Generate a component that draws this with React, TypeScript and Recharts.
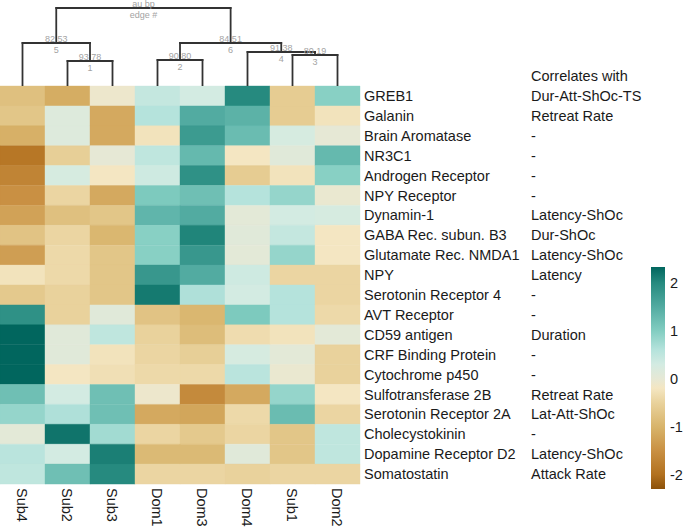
import React from 'react';
import {
  BarChart, Bar, Cell, XAxis, YAxis, ScatterChart, Scatter, ReferenceLine,
} from 'recharts';

// ---------- data ----------
const columns = ['Sub4', 'Sub2', 'Sub3', 'Dom1', 'Dom3', 'Dom4', 'Sub1', 'Dom2'];

const genes = [
  'GREB1', 'Galanin', 'Brain Aromatase', 'NR3C1', 'Androgen Receptor',
  'NPY Receptor', 'Dynamin-1', 'GABA Rec. subun. B3', 'Glutamate Rec. NMDA1', 'NPY',
  'Serotonin Receptor 4', 'AVT Receptor', 'CD59 antigen', 'CRF Binding Protein', 'Cytochrome p450',
  'Sulfotransferase 2B', 'Serotonin Receptor 2A', 'Cholecystokinin', 'Dopamine Receptor D2', 'Somatostatin',
];

const correlates = [
  'Dur-Att-ShOc-TS', 'Retreat Rate', '-', '-', '-',
  '-', 'Latency-ShOc', 'Dur-ShOc', 'Latency-ShOc', 'Latency',
  '-', '-', 'Duration', '-', '-',
  'Retreat Rate', 'Lat-Att-ShOc', '-', 'Latency-ShOc', 'Attack Rate',
];

// z-scores per column (one value per gene, in gene order)
const sub4 = [-0.8, -0.7, -1.05, -1.9, -1.7, -1.5, -1.25, -0.75, -1.3, -0.25, -0.65, 1.9, 2.35, 2.35, 2.35, 1.2, 0.85, 0.05, 0.55, 0.5];
const sub2 = [-1.1, 0.15, 0.15, -0.55, 0.25, -0.45, -0.8, -0.45, -0.4, -0.4, -0.5, -0.5, 0.1, 0.1, -0.2, 0.3, 0.65, 2.2, 0.3, 1.2];
const sub3 = [-0.1, -1.15, -1.15, 0.0, -0.2, -1.15, -0.7, -0.95, -0.7, -0.7, -0.7, 0.1, 0.5, -0.25, -0.3, 1.2, 1.2, 0.75, 2.1, 2.0];
const dom1 = [0.45, 0.6, -0.25, 0.5, 0.35, 1.05, 1.35, 0.95, 0.95, 1.8, 2.15, -0.75, -0.5, -0.45, -0.4, -0.1, -1.15, -0.45, -0.9, -0.45];
const dom3 = [0.3, 1.5, 1.75, 1.3, 1.9, 1.2, 1.5, 2.05, 1.8, 1.5, 0.65, -0.95, -0.85, -0.55, -0.4, -1.6, -1.2, -0.65, -0.9, -0.45];
const dom4 = [2.0, 1.4, 1.25, -0.2, -0.6, 0.6, 0.05, 0.1, 0.05, 0.35, 0.3, 1.05, -0.35, 0.25, 0.55, -1.15, -0.4, -0.45, 0.1, -0.5];
const sub1 = [-0.6, -0.6, 0.25, 0.1, -0.25, 0.85, 0.3, 0.45, 0.85, -0.45, 0.6, 0.6, -0.25, 0.05, -0.05, 0.85, 1.25, -0.7, -0.7, -0.45];
const dom2 = [0.95, -0.25, 0.0, 1.3, 0.95, -0.05, 0.25, -0.2, -0.2, -0.45, -0.45, -0.4, 0.05, -0.5, -0.5, -0.2, -0.45, 0.5, 0.5, -0.45];

const columnValues = [sub4, sub2, sub3, dom1, dom3, dom4, sub1, dom2];

// dendrogram (pvclust): children are column names or node ids
const dendroNodes = [
  { id: '1', left: 'Sub2', right: 'Sub3', height: 0.25, au: '93', bp: '78' },
  { id: '5', left: 'Sub4', right: '1', height: 0.43, au: '82', bp: '53' },
  { id: '2', left: 'Dom1', right: 'Dom3', height: 0.26, au: '90', bp: '80' },
  { id: '3', left: 'Sub1', right: 'Dom2', height: 0.31, au: '80', bp: '19' },
  { id: '4', left: 'Dom4', right: '3', height: 0.34, au: '91', bp: '38' },
  { id: '6', left: '2', right: '4', height: 0.43, au: '84', bp: '51' },
  { id: 'edge #', left: '5', right: '6', height: 0.78, au: 'au', bp: 'bp' },
];

const colorbarTicks = [-2, -1, 0, 1, 2];
const colorbarDomain = [-2.3, 2.33];

// ---------- styling ----------
const paletteStops: [number, string][] = [
  [-2.3, '#8c510a'],
  [-2.0, '#b2711f'],
  [-1.5, '#c99043'],
  [-1.0, '#d8b46b'],
  [-0.5, '#e9d29c'],
  [-0.2, '#f4e6c2'],
  [0.0, '#e6e8d5'],
  [0.3, '#d3ebe2'],
  [0.6, '#b5e3dc'],
  [1.0, '#82cdc1'],
  [1.5, '#52aba1'],
  [2.0, '#268a7f'],
  [2.33, '#01665e'],
];

const hexToRgb = (h: string) => [1, 3, 5].map((i) => parseInt(h.slice(i, i + 2), 16));
const colorFor = (v: number) => {
  if (v <= paletteStops[0][0]) return paletteStops[0][1];
  for (let i = 1; i < paletteStops.length; i++) {
    const [v1, c1] = paletteStops[i];
    if (v <= v1) {
      const [v0, c0] = paletteStops[i - 1];
      const t = (v - v0) / (v1 - v0);
      const a = hexToRgb(c0);
      const b = hexToRgb(c1);
      const m = a.map((x, k) => Math.round(x + (b[k] - x) * t));
      return `rgb(${m[0]},${m[1]},${m[2]})`;
    }
  }
  return paletteStops[paletteStops.length - 1][1];
};

const FONT = '"Liberation Sans", Arial, Helvetica, sans-serif';
const TEXT = '#1a1a1a';
const FS = 14.5;

// ---------- derived tables ----------
const heatData = genes.map((g) => {
  const row: any = { name: g };
  columns.forEach((c) => { row[c] = 1; });
  return row;
});

const positions: Record<string, { x: number; h: number }> = {};
columns.forEach((c, i) => { positions[c] = { x: i + 0.5, h: 0 }; });
const segments: { x1: number; y1: number; x2: number; y2: number }[] = [];
const nodeLabels: any[] = [];
dendroNodes.forEach((n) => {
  const l = positions[n.left];
  const r = positions[n.right];
  const x = (l.x + r.x) / 2;
  positions[n.id] = { x, h: n.height };
  segments.push({ x1: l.x, y1: n.height, x2: r.x, y2: n.height });
  segments.push({ x1: l.x, y1: n.height, x2: l.x, y2: l.h });
  segments.push({ x1: r.x, y1: n.height, x2: r.x, y2: r.h });
  nodeLabels.push({ x, h: n.height, top: `${n.au} ${n.bp}`, bottom: n.id });
});

const cbarData = [{ name: 'scale', range: colorbarDomain }];
const cbarSpan = colorbarDomain[1] - colorbarDomain[0];

// ---------- components ----------
const RowTick = (props: any) => {
  const { x, y, payload } = props;
  const idx = genes.indexOf(payload.value);
  return (
    <g>
      <text x={x} y={y} dy="0.35em" fontSize={FS} fill={TEXT} textAnchor="start">{payload.value}</text>
      <text x={x + 167} y={y} dy="0.35em" fontSize={FS} fill={TEXT} textAnchor="start">{correlates[idx]}</text>
    </g>
  );
};

const ColTick = (props: any) => {
  const { x, y, payload } = props;
  const label = columns[Math.floor(payload.value)];
  return (
    <text transform={`translate(${x},${y}) rotate(90)`} x={0} y={0} dy="0.35em"
      textAnchor="start" fontSize={FS} fill={TEXT}>{label}</text>
  );
};

const CbarTick = (props: any) => {
  const { x, y, payload } = props;
  return (
    <text x={x} y={y} dy="0.35em" textAnchor="start" fontSize={FS} fill={TEXT}>{payload.value}</text>
  );
};

const NodeLabel = (props: any) => {
  const { cx, cy, payload } = props;
  return (
    <g>
      <text x={cx} y={cy - 1.5} textAnchor="middle" fontSize={9} fill="#a3a3a3">{payload.top}</text>
      <text x={cx} y={cy + 9.5} textAnchor="middle" fontSize={9} fill="#a3a3a3">{payload.bottom}</text>
    </g>
  );
};

export default function App() {
  return (
    <div style={{ position: 'absolute', left: 0, top: 0, width: 685, height: 528, fontFamily: FONT, background: '#fff' }}>
      {/* heatmap */}
      <div style={{ position: 'absolute', left: 0, top: 0 }}>
        <BarChart width={685} height={528} data={heatData} layout="vertical"
          margin={{ top: 86, right: 25, bottom: 4, left: 0 }} barCategoryGap={0} barGap={0}>
          <XAxis type="number" domain={[0, columns.length]} ticks={columns.map((_, i) => i + 0.5)}
            interval={0} axisLine={false} tickLine={false} tickSize={0} tickMargin={4}
            height={40} tick={<ColTick />} />
          <YAxis type="category" dataKey="name" orientation="right" width={300} interval={0}
            axisLine={false} tickLine={false} tickSize={0} tickMargin={4} tick={<RowTick />} />
          {columns.map((c, ci) => (
            <Bar key={c} dataKey={c} stackId="s" isAnimationActive={false}>
              {genes.map((g, ri) => (
                <Cell key={g} fill={colorFor(columnValues[ci][ri])} stroke={colorFor(columnValues[ci][ri])} strokeWidth={0.4} />
              ))}
            </Bar>
          ))}
        </BarChart>
      </div>

      {/* dendrogram */}
      <div style={{ position: 'absolute', left: 0, top: 0 }}>
        <ScatterChart width={360} height={86} margin={{ top: 8, right: 0, bottom: 0, left: 0 }}>
          <XAxis type="number" dataKey="x" domain={[0, columns.length]} hide />
          <YAxis type="number" dataKey="h" domain={[0, 'dataMax']} hide />
          {segments.map((s, i) => (
            <ReferenceLine key={i} segment={[{ x: s.x1, y: s.y1 }, { x: s.x2, y: s.y2 }]}
              stroke="#333333" strokeWidth={1.8} ifOverflow="visible" strokeLinecap="square" />
          ))}
          <Scatter data={nodeLabels} isAnimationActive={false} shape={(p: any) => <NodeLabel {...p} />} />
        </ScatterChart>
      </div>

      {/* colorbar */}
      <div style={{ position: 'absolute', left: 651, top: 260 }}>
        <BarChart width={34} height={240} data={cbarData} margin={{ top: 7, right: 0, bottom: 11, left: 0 }}
          barCategoryGap={0}>
          <defs>
            <linearGradient id="cbarGradient" x1="0" y1="1" x2="0" y2="0">
              {paletteStops.map(([v, c], i) => (
                <stop key={i} offset={`${((v - colorbarDomain[0]) / cbarSpan) * 100}%`} stopColor={c} />
              ))}
            </linearGradient>
          </defs>
          <XAxis type="category" dataKey="name" hide />
          <YAxis type="number" orientation="right" domain={colorbarDomain} ticks={colorbarTicks}
            width={20} axisLine={false} tickLine={false} tickSize={0} tickMargin={5}
            tick={<CbarTick />} interval={0} allowDataOverflow />
          <Bar dataKey="range" fill="url(#cbarGradient)" isAnimationActive={false} />
        </BarChart>
      </div>

      {/* header */}
      <svg width={685} height={100} style={{ position: 'absolute', left: 0, top: 0, pointerEvents: 'none' }}>
        <text x={531} y={76} dy="0.35em" fontSize={FS} fill={TEXT}>Correlates with</text>
      </svg>
    </div>
  );
}
